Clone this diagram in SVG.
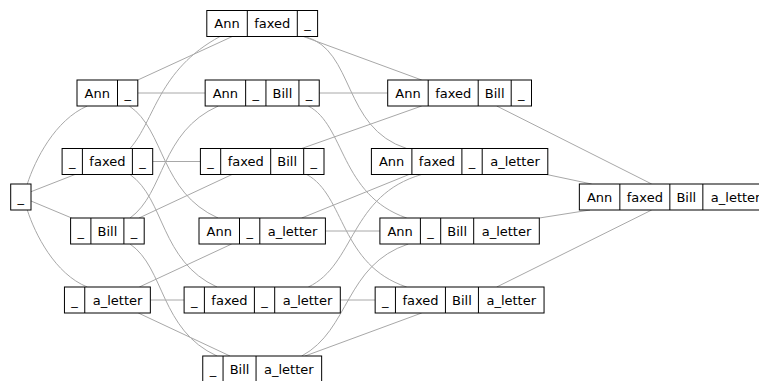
<svg xmlns="http://www.w3.org/2000/svg" width="759" height="381" viewBox="0 0 759 381">
<style>
.e{fill:none;stroke:#a8a8a8;stroke-width:1}
.n rect{fill:#fff;stroke:#000;stroke-width:1}
.n path{stroke:#000;stroke-width:1;fill:none}
.n text{font-family:"DejaVu Sans",sans-serif;font-size:13px;text-anchor:middle;fill:#000}
</style>
<rect width="759" height="381" fill="#fff"/>
<g id="connectors">
<path class="e" d="M27.3,184 C35,160 55,120 87.3,106"/>
<path class="e" d="M31,191.7 L75,174.5"/>
<path class="e" d="M31,201 L71.7,218"/>
<path class="e" d="M27.3,210 C35,234 55,274 87.3,287"/>
<path class="e" d="M137.8,80 L232.3,36.5"/>
<path class="e" d="M137.8,93 L205.15,93"/>
<path class="e" d="M129.3,106 C165,130 160,192 218,218"/>
<path class="e" d="M130,148.5 C155,120 158,70 220,36.5"/>
<path class="e" d="M152.7,161.5 L200.4,161.5"/>
<path class="e" d="M130,174.5 C165,199 160,261 217,287"/>
<path class="e" d="M130,218 C165,193 160,132 218.3,106"/>
<path class="e" d="M139,218 L232,174.5"/>
<path class="e" d="M130,244 C165,268 160,330 217,356"/>
<path class="e" d="M139.3,287 L231.7,244"/>
<path class="e" d="M150.35,300 L184.1,300"/>
<path class="e" d="M138.3,313 L230,356"/>
<path class="e" d="M303.3,36.5 L421.7,80"/>
<path class="e" d="M305,36.5 C355,50 342,128 406.7,148.5"/>
<path class="e" d="M319.25,93 L387.7,93"/>
<path class="e" d="M308.3,106 C345,125 340,195 406.7,218"/>
<path class="e" d="M301.7,148.5 L421.7,106"/>
<path class="e" d="M306.7,174.5 C345,195 340,265 406.7,287"/>
<path class="e" d="M301.7,218 L409,174.5"/>
<path class="e" d="M325.4,231 L379.9,231"/>
<path class="e" d="M308.3,287 C355,265 350,195 421.7,174.5"/>
<path class="e" d="M340.3,300 L375.15,300"/>
<path class="e" d="M301.7,356 C350,330 345,265 408.3,244"/>
<path class="e" d="M305,356 L421.7,313"/>
<path class="e" d="M496.7,106 L651.7,184"/>
<path class="e" d="M546.7,174.5 L591.7,184"/>
<path class="e" d="M539.3,218 L590,210"/>
<path class="e" d="M496.7,287 L651.7,210"/>
</g>
<g id="n_empty" class="n"><rect x="10.7" y="184" width="20.3" height="26"/><text x="20.85" y="201.5">_</text></g>
<g id="n_A" class="n"><rect x="77" y="80" width="60.8" height="26"/><path d="M117.5,80V106"/><text x="97.25" y="97.5">Ann</text><text x="127.65" y="97.5">_</text></g>
<g id="n_F" class="n"><rect x="62.1" y="148.5" width="90.6" height="26"/><path d="M82.4,148.5V174.5M132.4,148.5V174.5"/><text x="72.25" y="166">_</text><text x="107.4" y="166">faxed</text><text x="142.55" y="166">_</text></g>
<g id="n_B" class="n"><rect x="70.6" y="218" width="73.6" height="26"/><path d="M90.9,218V244M123.9,218V244"/><text x="80.75" y="235.5">_</text><text x="107.4" y="235.5">Bill</text><text x="134.05" y="235.5">_</text></g>
<g id="n_L" class="n"><rect x="64.45" y="287" width="85.9" height="26"/><path d="M84.75,287V313"/><text x="74.6" y="304.5">_</text><text x="117.55" y="304.5">a_letter</text></g>
<g id="n_AF" class="n"><rect x="206.8" y="10.5" width="110.8" height="26"/><path d="M247.3,10.5V36.5M297.3,10.5V36.5"/><text x="227.05" y="28">Ann</text><text x="272.3" y="28">faxed</text><text x="307.45" y="28">_</text></g>
<g id="n_AB" class="n"><rect x="205.15" y="80" width="114.1" height="26"/><path d="M245.65,80V106M265.95,80V106M298.95,80V106"/><text x="225.4" y="97.5">Ann</text><text x="255.8" y="97.5">_</text><text x="282.45" y="97.5">Bill</text><text x="309.1" y="97.5">_</text></g>
<g id="n_FB" class="n"><rect x="200.4" y="148.5" width="123.6" height="26"/><path d="M220.7,148.5V174.5M270.7,148.5V174.5M303.7,148.5V174.5"/><text x="210.55" y="166">_</text><text x="245.7" y="166">faxed</text><text x="287.2" y="166">Bill</text><text x="313.85" y="166">_</text></g>
<g id="n_AL" class="n"><rect x="199" y="218" width="126.4" height="26"/><path d="M239.5,218V244M259.8,218V244"/><text x="219.25" y="235.5">Ann</text><text x="249.65" y="235.5">_</text><text x="292.6" y="235.5">a_letter</text></g>
<g id="n_FL" class="n"><rect x="184.1" y="287" width="156.2" height="26"/><path d="M204.4,287V313M254.4,287V313M274.7,287V313"/><text x="194.25" y="304.5">_</text><text x="229.4" y="304.5">faxed</text><text x="264.55" y="304.5">_</text><text x="307.5" y="304.5">a_letter</text></g>
<g id="n_BL" class="n"><rect x="202.75" y="356" width="118.9" height="26"/><path d="M223.05,356V382M256.05,356V382"/><text x="212.9" y="373.5">_</text><text x="239.55" y="373.5">Bill</text><text x="288.85" y="373.5">a_letter</text></g>
<g id="n_AFB" class="n"><rect x="387.7" y="80" width="143.8" height="26"/><path d="M428.2,80V106M478.2,80V106M511.2,80V106"/><text x="407.95" y="97.5">Ann</text><text x="453.2" y="97.5">faxed</text><text x="494.7" y="97.5">Bill</text><text x="521.35" y="97.5">_</text></g>
<g id="n_AFL" class="n"><rect x="371.4" y="148.5" width="176.4" height="26"/><path d="M411.9,148.5V174.5M461.9,148.5V174.5M482.2,148.5V174.5"/><text x="391.65" y="166">Ann</text><text x="436.9" y="166">faxed</text><text x="472.05" y="166">_</text><text x="515" y="166">a_letter</text></g>
<g id="n_ABL" class="n"><rect x="379.9" y="218" width="159.4" height="26"/><path d="M420.4,218V244M440.7,218V244M473.7,218V244"/><text x="400.15" y="235.5">Ann</text><text x="430.55" y="235.5">_</text><text x="457.2" y="235.5">Bill</text><text x="506.5" y="235.5">a_letter</text></g>
<g id="n_FBL" class="n"><rect x="375.15" y="287" width="168.9" height="26"/><path d="M395.45,287V313M445.45,287V313M478.45,287V313"/><text x="385.3" y="304.5">_</text><text x="420.45" y="304.5">faxed</text><text x="461.95" y="304.5">Bill</text><text x="511.25" y="304.5">a_letter</text></g>
<g id="n_AFBL" class="n"><rect x="579.35" y="184" width="189.1" height="26"/><path d="M619.85,184V210M669.85,184V210M702.85,184V210"/><text x="599.6" y="201.5">Ann</text><text x="644.85" y="201.5">faxed</text><text x="686.35" y="201.5">Bill</text><text x="735.65" y="201.5">a_letter</text></g>
</svg>
